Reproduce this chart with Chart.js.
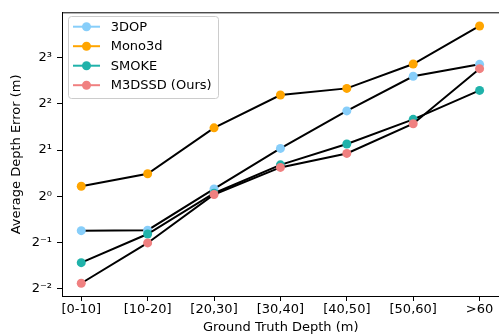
<!DOCTYPE html>
<html>
<head>
<meta charset="utf-8">
<script src="https://cdn.jsdelivr.net/npm/chart.js@4/dist/chart.umd.min.js"></script>
<style>
  html, body { margin: 0; padding: 0; background: #fff; overflow: hidden; }
  #wrap { width: 499px; height: 335px; overflow: hidden; position: relative; }
  canvas { display: block; }
</style>
</head>
<body>
<div id="wrap"><canvas id="chart" width="504" height="335"></canvas></div>
<script>
// Categorias (eixo x)
const categories = ['[0-10]', '[10-20]', '[20,30]', '[30,40]', '[40,50]', '[50,60]', '>60'];

// Valores (m)
const dop3d = [0.595, 0.60, 1.115, 2.05, 3.6, 6.06, 7.25];
const mono3d = [1.16, 1.40, 2.79, 4.57, 5.05, 7.28, 12.9];
const smoke = [0.368, 0.566, 1.045, 1.60, 2.19, 3.17, 4.9];
const m3dssd = [0.27, 0.495, 1.025, 1.54, 1.90, 2.97, 6.79];

// Ticks do eixo y (potências de 2)
const yTicks = [0.25, 0.5, 1, 2, 4, 8];
const yTickLabels = ['2\u207B\u00B2', '2\u207B\u00B9', '2\u2070', '2\u00B9', '2\u00B2', '2\u00B3'];

const FONT = 'DejaVu Sans';

function pontos(valores) {
    return valores.map((v, i) => ({ x: i, y: v }));
}

function serie(label, valores, cor, ordem) {
    return {
        label: label,
        data: pontos(valores),
        borderColor: '#000000',
        borderWidth: 2,
        pointBackgroundColor: cor,
        pointBorderColor: cor,
        pointBorderWidth: 0,
        pointRadius: 4.5,
        pointHoverRadius: 4.5,
        markerColor: cor,
        order: ordem,
        tension: 0
    };
}

// Legenda estilo matplotlib (linha colorida + marcador)
const legendaPlugin = {
    id: 'legendaBox',
    afterDraw(chart) {
        const ctx = chart.ctx;
        const x0 = 68.5, y0 = 16.5, w = 150, h = 82;
        ctx.save();
        ctx.fillStyle = 'rgba(255,255,255,0.8)';
        ctx.strokeStyle = '#cccccc';
        ctx.lineWidth = 1;
        ctx.beginPath();
        ctx.roundRect(x0, y0, w, h, 3);
        ctx.fill();
        ctx.stroke();

        ctx.font = '13px ' + FONT;
        ctx.textBaseline = 'middle';
        ctx.textAlign = 'left';
        chart.data.datasets.forEach((ds, i) => {
            const y = 26.7 + i * 19.5;
            ctx.strokeStyle = ds.markerColor;
            ctx.lineWidth = 2;
            ctx.beginPath();
            ctx.moveTo(73, y);
            ctx.lineTo(100, y);
            ctx.stroke();
            ctx.fillStyle = ds.markerColor;
            ctx.beginPath();
            ctx.arc(86.5, y, 4.5, 0, Math.PI * 2);
            ctx.fill();
            ctx.fillStyle = '#000000';
            ctx.fillText(ds.label, 110.7, y + 0.5);
        });
        ctx.restore();
    }
};

// Borda de cima e da direita (a da direita fica fora da janela)
const bordaPlugin = {
    id: 'bordaTopo',
    afterDatasetsDraw(chart) {
        const a = chart.chartArea;
        const ctx = chart.ctx;
        ctx.save();
        ctx.strokeStyle = '#000000';
        ctx.lineWidth = 1;
        ctx.beginPath();
        ctx.moveTo(a.left, a.top);
        ctx.lineTo(a.right, a.top);
        ctx.lineTo(a.right, a.bottom);
        ctx.stroke();
        ctx.restore();
    }
};

const ctx = document.getElementById('chart').getContext('2d');
const grafico = new Chart(ctx, {
    type: 'line',
    data: {
        datasets: [
            serie('3DOP', dop3d, '#87CEFA', 4),
            serie('Mono3d', mono3d, '#FFA500', 3),
            serie('SMOKE', smoke, '#20B2AA', 2),
            serie('M3DSSD (Ours)', m3dssd, '#F08080', 1)
        ]
    },
    options: {
        responsive: false,
        animation: false,
        devicePixelRatio: 1,
        layout: { padding: { top: 10, right: 1, left: 0, bottom: 0 } },
        plugins: {
            legend: { display: false },
            tooltip: { enabled: false }
        },
        scales: {
            x: {
                type: 'linear',
                min: -0.29,
                max: 6.3,
                afterBuildTicks: (scale) => {
                    scale.ticks = categories.map((c, i) => ({ value: i }));
                },
                afterFit: (scale) => { scale.height = 39; },
                ticks: {
                    autoSkip: false,
                    maxRotation: 0,
                    color: '#000000',
                    padding: 1,
                    font: { family: FONT, size: 13 },
                    callback: (v) => categories[v]
                },
                grid: { drawOnChartArea: false, tickLength: 5, color: '#000000' },
                border: { display: true, color: '#000000', width: 1 },
                title: {
                    display: true,
                    text: 'Ground Truth Depth (m)',
                    color: '#000000',
                    font: { family: FONT, size: 13 },
                    padding: { top: 0, bottom: 0 }
                }
            },
            y: {
                type: 'logarithmic',
                min: Math.pow(2, -2.165),
                max: Math.pow(2, 3.975),
                afterBuildTicks: (scale) => {
                    scale.ticks = yTicks.map(v => ({ value: v }));
                },
                afterFit: (scale) => { scale.width = 62; },
                ticks: {
                    autoSkip: false,
                    color: '#000000',
                    padding: 5,
                    font: { family: FONT, size: 13 },
                    callback: (v) => {
                        const i = yTicks.indexOf(v);
                        return i >= 0 ? yTickLabels[i] : '';
                    }
                },
                grid: { drawOnChartArea: false, tickLength: 5, color: '#000000' },
                border: { display: true, color: '#000000', width: 1 },
                title: {
                    display: true,
                    text: 'Average Depth Error (m)',
                    color: '#000000',
                    font: { family: FONT, size: 13 },
                    padding: { top: 9, bottom: 0 }
                }
            }
        }
    },
    plugins: [bordaPlugin, legendaPlugin]
});
</script>
</body>
</html>
